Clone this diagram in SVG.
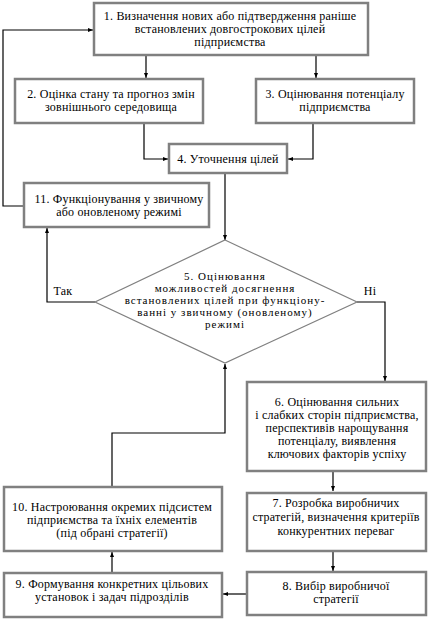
<svg xmlns="http://www.w3.org/2000/svg" width="430" height="619" viewBox="0 0 430 619">
<style>
.box{fill:#fff;stroke:#808080;stroke-width:2.5}
.dia{fill:#fff;stroke:#808080;stroke-width:1.2}
.t{font-family:"Liberation Serif","Times New Roman",serif;font-size:12px;letter-spacing:0.2px;fill:#000;text-anchor:middle}
.s{font-size:11px;letter-spacing:1px}
.c{fill:none;stroke:#000;stroke-width:1.2}
</style>
<defs>
<marker id="ah" viewBox="0 0 10 10" refX="10" refY="5" markerWidth="6" markerHeight="5" orient="auto" markerUnits="userSpaceOnUse">
<path d="M0,1 L10,5 L0,9 z" fill="#000"/>
</marker>
</defs>
<rect width="430" height="619" fill="#fff"/>
<g id="connectors">
<path class="c" d="M24,206 H3 V30 H93" marker-end="url(#ah)"/>
<path class="c" d="M146,55 V78" marker-end="url(#ah)"/>
<path class="c" d="M316,55 V78" marker-end="url(#ah)"/>
<path class="c" d="M144,123 V159 H168" marker-end="url(#ah)"/>
<path class="c" d="M313,123 V159 H288" marker-end="url(#ah)"/>
<path class="c" d="M225,173 V240" marker-end="url(#ah)"/>
<path class="c" d="M95,302 H47 V228" marker-end="url(#ah)"/>
<path class="c" d="M357,302 H385 V381" marker-end="url(#ah)"/>
<path class="c" d="M333,471 V491" marker-end="url(#ah)"/>
<path class="c" d="M112,487 V433 H225 V364" marker-end="url(#ah)"/>
<path class="c" d="M333,551 V571" marker-end="url(#ah)"/>
<path class="c" d="M247,594 H223" marker-end="url(#ah)"/>
<path class="c" d="M112,573 V552" marker-end="url(#ah)"/>
<text class="t" x="63" y="295">Так</text>
<text class="t" x="370" y="295">Ні</text>
</g>
<g id="n1">
<rect class="box" x="94" y="3" width="274" height="52"/>
<text class="t" x="230" y="20">1. Визначення нових  або підтвердження раніше</text>
<text class="t" x="230" y="33">встановлених  довгострокових  цілей</text>
<text class="t" x="230" y="46">підприємства</text>
</g>
<g id="n2">
<rect class="box" x="15" y="79" width="188" height="44"/>
<text class="t" x="111" y="98">2. Оцінка стану та прогноз змін</text>
<text class="t" x="111" y="111">зовнішнього середовища</text>
</g>
<g id="n3">
<rect class="box" x="256" y="79" width="158" height="44"/>
<text class="t" x="335" y="98">3. Оцінювання потенціалу</text>
<text class="t" x="335" y="111">підприємства</text>
</g>
<g id="n4">
<rect class="box" x="169" y="144" width="118" height="29"/>
<text class="t" x="228" y="162.5">4. Уточнення цілей</text>
</g>
<g id="n11">
<rect class="box" x="24" y="183" width="185" height="44"/>
<text class="t" x="119" y="203">11. Функціонування у звичному</text>
<text class="t" x="119" y="216">або оновленому режимі</text>
</g>
<g id="n5">
<polygon class="dia" points="225,240 357,302 225,363 95,302"/>
<text class="t s" x="225" y="280">5. Оцінювання</text>
<text class="t s" x="225" y="292">можливостей досягнення</text>
<text class="t s" x="225" y="304">встановлених цілей при функціону-</text>
<text class="t s" x="225" y="316">ванні  у звичному (оновленому)</text>
<text class="t s" x="225" y="328">режимі</text>
</g>
<g id="n6">
<rect class="box" x="247" y="382" width="179" height="89"/>
<text class="t" x="337" y="406">6. Оцінювання сильних</text>
<text class="t" x="337" y="419">і слабких  сторін підприємства,</text>
<text class="t" x="337" y="432">перспективів нарощування</text>
<text class="t" x="337" y="445">потенціалу, виявлення</text>
<text class="t" x="337" y="458">ключових  факторів успіху</text>
</g>
<g id="n7">
<rect class="box" x="247" y="493" width="179" height="58"/>
<text class="t" x="336" y="507">7. Розробка виробничих</text>
<text class="t" x="336" y="521">стратегій, визначення критеріїв</text>
<text class="t" x="336" y="535">конкурентних  переваг</text>
</g>
<g id="n8">
<rect class="box" x="247" y="572" width="179" height="43"/>
<text class="t" x="336" y="590">8. Вибір виробничої</text>
<text class="t" x="336" y="603">стратегії</text>
</g>
<g id="n10">
<rect class="box" x="4" y="487" width="218" height="64"/>
<text class="t" x="112" y="511">10. Настроювання окремих підсистем</text>
<text class="t" x="112" y="524">підприємства та їхніх  елементів</text>
<text class="t" x="112" y="537">(під обрані стратегії)</text>
</g>
<g id="n9">
<rect class="box" x="4" y="573" width="218" height="44"/>
<text class="t" x="112" y="588">9. Формування конкретних  цільових</text>
<text class="t" x="112" y="601">установок і задач підрозділів</text>
</g>
</svg>
